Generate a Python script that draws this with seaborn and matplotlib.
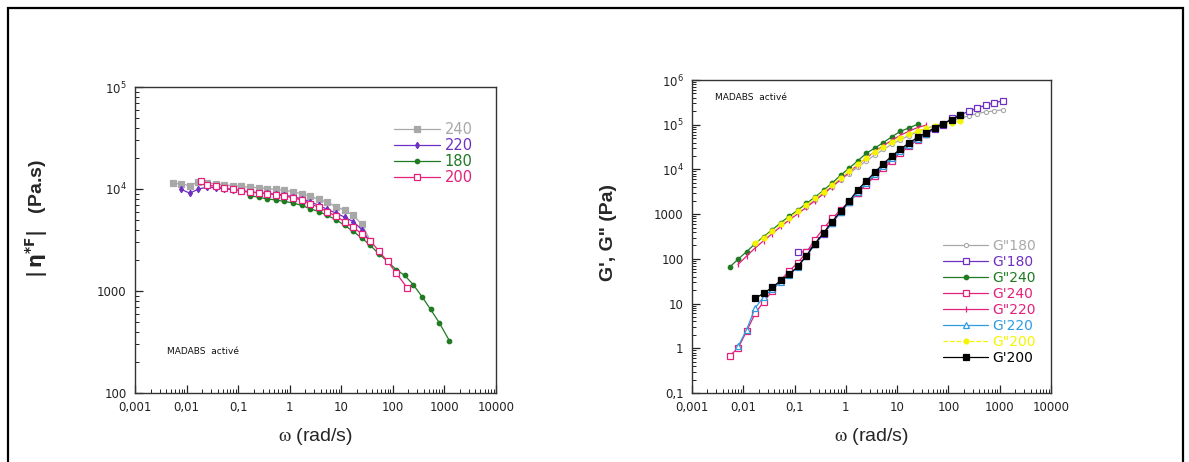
import numpy as np
import pandas as pd
import seaborn as sns
import matplotlib
matplotlib.use("Agg")
import matplotlib.pyplot as plt
from matplotlib.ticker import FixedLocator, FixedFormatter, LogLocator, NullFormatter
from matplotlib.patches import Rectangle

# ---------------- data ----------------
# Left panel : complex viscosity |eta*| (Pa.s) vs omega (rad/s)
w_240 = [0.0054, 0.0079, 0.0116, 0.017, 0.025, 0.0367, 0.054, 0.079, 0.116, 0.17, 0.25, 0.367,
         0.54, 0.79, 1.16, 1.7, 2.5, 3.67, 5.4, 7.9, 11.6, 17, 25, 36.7]
eta_240 = [11400, 11200, 10800, 11800, 11500, 11200, 11000, 10800, 10600, 10400, 10300, 10100,
           9900, 9700, 9400, 9000, 8500, 7900, 7400, 6700, 6200, 5500, 4500, 3100]

w_220 = [0.0079, 0.0116, 0.017, 0.025, 0.0367, 0.054, 0.079, 0.116, 0.17, 0.25, 0.367,
         0.54, 0.79, 1.16, 1.7, 2.5, 3.67, 5.4, 7.9, 11.6, 17, 25, 36.7]
eta_220 = [9900, 9100, 10000, 10400, 10300, 10000, 9850, 9650, 9400, 9200, 9050,
           8900, 8700, 8400, 8000, 7500, 6900, 6300, 5800, 5300, 4800, 4000, 3000]

w_180 = [0.17, 0.25, 0.367, 0.54, 0.79, 1.16, 1.7, 2.5, 3.67, 5.4, 7.9, 11.6, 17, 25, 36.7,
         54, 79, 116, 170, 250, 367, 540, 790, 1250]
eta_180 = [8600, 8300, 8000, 7800, 7550, 7300, 6900, 6400, 6000, 5500, 5000, 4400, 3850, 3300, 2800,
           2300, 1950, 1620, 1420, 1150, 880, 660, 490, 325]

w_200 = [0.019, 0.025, 0.0367, 0.054, 0.079, 0.116, 0.17, 0.25, 0.367, 0.54, 0.79, 1.16, 1.7,
         2.5, 3.67, 5.4, 7.9, 11.6, 17, 25, 36.7, 54, 79, 116, 190]
eta_200 = [12100, 11000, 10600, 10200, 9900, 9500, 9300, 9150, 9000, 8800, 8550, 8200, 7800,
           7200, 6600, 6000, 5400, 4800, 4200, 3650, 3100, 2450, 1950, 1500, 1070]

# Right panel : G', G'' (Pa) vs omega (rad/s)
w_gpp180 = [0.17, 0.25, 0.367, 0.54, 0.79, 1.16, 1.7, 2.5, 3.67, 5.4, 7.9, 11.6, 17, 25, 36.7,
            54, 79, 116, 170, 250, 367, 540, 790, 1160]
gpp_180 = [1450, 2050, 2900, 4100, 5800, 8100, 11200, 15500, 21000, 28000, 36500, 46000, 57000,
           69000, 82000, 96000, 110000, 125000, 140000, 158000, 178000, 193000, 204000, 216000]

w_gp180 = [0.116, 0.17, 0.25, 0.367, 0.54, 0.79, 1.16, 1.7, 2.5, 3.67, 5.4, 7.9, 11.6, 17, 25,
           36.7, 54, 79, 116, 170, 250, 367, 540, 790, 1160]
gp_180 = [140, 145, 210, 360, 640, 1100, 1850, 3000, 4800, 7600, 11800, 17500, 25000, 35000, 47000,
          62000, 80000, 100000, 140000, 168000, 198000, 237000, 275000, 308000, 345000]

w_gpp240 = [0.0054, 0.0079, 0.0116, 0.017, 0.025, 0.0367, 0.054, 0.079, 0.116, 0.17, 0.25, 0.367,
            0.54, 0.79, 1.16, 1.7, 2.5, 3.67, 5.4, 7.9, 11.6, 17, 25]
gpp_240 = [65, 98, 145, 218, 316, 447, 645, 900, 1230, 1740, 2400, 3400,
           5000, 7400, 10700, 15500, 23000, 30000, 40000, 54000, 71000, 85000, 102000]

w_gp240 = [0.0054, 0.0079, 0.0116, 0.017, 0.025, 0.0367, 0.054, 0.079, 0.116, 0.17, 0.25, 0.367,
           0.54, 0.79, 1.16, 1.7, 2.5, 3.67, 5.4, 7.9, 11.6, 17, 25, 36.7]
gp_240 = [0.68, 1.0, 2.4, 6.0, 11, 19, 34, 54, 82, 140, 270, 480,
          800, 1250, 1900, 2900, 4600, 7000, 10500, 15500, 23000, 33000, 46000, 62000]

w_gpp220 = [0.0079, 0.0116, 0.017, 0.025, 0.0367, 0.054, 0.079, 0.116, 0.17, 0.25, 0.367,
            0.54, 0.79, 1.16, 1.7, 2.5, 3.67, 5.4, 7.9, 11.6, 17, 25, 36.7]
gpp_220 = [75, 115, 175, 255, 365, 530, 740, 1020, 1420, 2000, 2850,
           4100, 6000, 8700, 12600, 18000, 25000, 34000, 45000, 58000, 72000, 86000, 98000]

w_gp220 = [0.0079, 0.0116, 0.017, 0.025, 0.0367, 0.054, 0.079, 0.116, 0.17, 0.25, 0.367,
           0.54, 0.79, 1.16, 1.7, 2.5, 3.67, 5.4, 7.9, 11.6, 17, 25, 36.7]
gp_220 = [1.1, 2.6, 8, 14, 21, 31, 44, 66, 115, 210, 370,
          650, 1100, 1850, 3100, 5000, 7800, 12000, 18000, 26000, 36000, 48000, 62000]

w_gpp200 = [0.017, 0.025, 0.0367, 0.054, 0.079, 0.116, 0.17, 0.25, 0.367, 0.54, 0.79, 1.16, 1.7,
            2.5, 3.67, 5.4, 7.9, 11.6, 17, 25, 36.7, 54, 79, 116, 170]
gpp_200 = [225, 300, 420, 590, 830, 1150, 1600, 2250, 3200, 4500, 6500, 9200, 13000,
           18000, 24500, 32000, 41000, 51000, 61000, 72000, 83000, 93000, 102000, 111000, 120000]

w_gp200 = [0.017, 0.025, 0.0367, 0.054, 0.079, 0.116, 0.17, 0.25, 0.367, 0.54, 0.79, 1.16, 1.7,
           2.5, 3.67, 5.4, 7.9, 11.6, 17, 25, 36.7, 54, 79, 116, 170]
gp_200 = [13, 17, 23, 33, 45, 68, 118, 220, 380, 680, 1150, 1950, 3500,
          5500, 8600, 13500, 20000, 28500, 39000, 52000, 66000, 86000, 106000, 130000, 162000]

X_TICKS = [1e-3, 1e-2, 1e-1, 1, 10, 100, 1000, 10000]
X_TICK_LABELS = ["0,001", "0,01", "0,1", "1", "10", "100", "1000", "10000"]
YL_TICKS = [100, 1000, 1e4, 1e5]
YL_TICK_LABELS = ["100", "1000", "$10^4$", "$10^5$"]
YR_TICKS = [0.1, 1, 10, 100, 1000, 1e4, 1e5, 1e6]
YR_TICK_LABELS = ["0,1", "1", "10", "100", "1000", "$10^4$", "$10^5$", "$10^6$"]

LEFT_LABELS = ["240", "220", "180", "200"]
RIGHT_LABELS = ['G"180', "G'180", 'G"240', "G'240", 'G"220', "G'220", 'G"200', "G'200"]

# ---------------- style ----------------
sns.set_style("ticks")
plt.rcParams['font.family'] = ['DejaVu Sans']
plt.rcParams['mathtext.default'] = 'regular'

GRAY = "#a8a8a8"
PURPLE = "#6f2fc2"
GREEN = "#1f7a22"
PINK = "#e3217a"
BLUE = "#2f9be0"
YELLOW = "#f5f500"
BLACK = "#000000"

fig = plt.figure(figsize=(11.89, 4.62), dpi=100)
axL = fig.add_axes([135 / 1189, 69 / 462, 361 / 1189, 306 / 462])
axR = fig.add_axes([692 / 1189, 69 / 462, 359 / 1189, 313 / 462])


def style_axes(ax, ylim, yticks, ylabels):
    ax.set_xscale('log')
    ax.set_yscale('log')
    ax.set_xlim(1e-3, 1e4)
    ax.set_ylim(*ylim)
    ax.xaxis.set_major_locator(FixedLocator(X_TICKS))
    ax.xaxis.set_major_formatter(FixedFormatter(X_TICK_LABELS))
    ax.xaxis.set_minor_locator(LogLocator(base=10, subs=np.arange(2, 10), numticks=30))
    ax.xaxis.set_minor_formatter(NullFormatter())
    ax.yaxis.set_major_locator(FixedLocator(yticks))
    ax.yaxis.set_major_formatter(FixedFormatter(ylabels))
    ax.yaxis.set_minor_locator(LogLocator(base=10, subs=np.arange(2, 10), numticks=30))
    ax.yaxis.set_minor_formatter(NullFormatter())
    ax.tick_params(which='both', direction='in', top=False, right=False,
                   colors='#222222', labelsize=8.5)
    ax.tick_params(which='major', length=6, width=0.9, pad=6)
    ax.tick_params(which='minor', length=3, width=0.7)
    for s in ax.spines.values():
        s.set_linewidth(1.0)
        s.set_color('#333333')
    ax.grid(False)


def draw(ax, x, y, color, marker, ms, label, filled=True, ls='-', lw=0.9, mew=0.9):
    sns.lineplot(x=x, y=y, ax=ax, color=color, marker=marker, markersize=ms,
                 markerfacecolor=color if filled else 'white', markeredgecolor=color,
                 markeredgewidth=mew, linewidth=lw, linestyle=ls, label=label,
                 errorbar=None, sort=False)


# ---------------- left panel ----------------
draw(axL, w_240, eta_240, GRAY, 's', 4, LEFT_LABELS[0])
draw(axL, w_220, eta_220, PURPLE, 'd', 3.2, LEFT_LABELS[1])
draw(axL, w_180, eta_180, GREEN, 'o', 3.2, LEFT_LABELS[2])
draw(axL, w_200, eta_200, PINK, 's', 4, LEFT_LABELS[3], filled=False)
style_axes(axL, (100, 1e5), YL_TICKS, YL_TICK_LABELS)
legL = axL.legend(loc='upper left', bbox_to_anchor=(0.70, 0.905), frameon=False,
                  handlelength=3.2, fontsize=10.5, labelspacing=0.08, handletextpad=0.3,
                  labelcolor='linecolor', borderaxespad=0)
axL.text(0.09, 0.135, "MADABS  activé", transform=axL.transAxes, fontsize=6.5,
         ha='left', va='center', color='#111111')
axL.set_xlabel(r"$\mathrm{\omega}$ (rad/s)", fontsize=14, math_fontfamily='stix',
               family='Liberation Sans')
axL.xaxis.set_label_coords(0.5, -0.108)
axL.set_ylabel(r"$\mathbf{|\,\eta^{*F}|}$   (Pa.s)", fontsize=14, fontweight='bold',
               family='Liberation Sans')
axL.yaxis.set_label_coords(-0.235, 0.57)

# ---------------- right panel ----------------
draw(axR, w_gpp180, gpp_180, GRAY, 'o', 3, RIGHT_LABELS[0], filled=False, mew=0.8)
draw(axR, w_gp180, gp_180, PURPLE, 's', 4.6, RIGHT_LABELS[1], filled=False)
draw(axR, w_gpp240, gpp_240, GREEN, 'o', 3.2, RIGHT_LABELS[2])
draw(axR, w_gp240, gp_240, PINK, 's', 4.6, RIGHT_LABELS[3], filled=False)
draw(axR, w_gpp220, gpp_220, PINK, '|', 5, RIGHT_LABELS[4])
draw(axR, w_gp220, gp_220, BLUE, '^', 4, RIGHT_LABELS[5], filled=False)
draw(axR, w_gpp200, gpp_200, YELLOW, 'o', 3.5, RIGHT_LABELS[6], ls='--')
draw(axR, w_gp200, gp_200, BLACK, 's', 5, RIGHT_LABELS[7])
style_axes(axR, (0.1, 1e6), YR_TICKS, YR_TICK_LABELS)
legR = axR.legend(loc='upper left', bbox_to_anchor=(0.685, 0.51), frameon=False,
                  handlelength=3.2, fontsize=10, labelspacing=0.14, handletextpad=0.3,
                  labelcolor='linecolor', borderaxespad=0)
axR.text(0.065, 0.945, "MADABS  activé", transform=axR.transAxes, fontsize=6.5,
         ha='left', va='center', color='#111111')
axR.set_xlabel(r"$\mathrm{\omega}$ (rad/s)", fontsize=14, math_fontfamily='stix',
               family='Liberation Sans')
axR.xaxis.set_label_coords(0.5, -0.106)
axR.set_ylabel("G', G\" (Pa)", fontsize=14, fontweight='bold', family='Liberation Sans')
axR.yaxis.set_label_coords(-0.21, 0.514)

# ---------------- outer frame ----------------
frame = Rectangle((8 / 1189, -0.1), (1183 - 8) / 1189, 1.1 - 8 / 462,
                  transform=fig.transFigure, fill=False, lw=1.6, edgecolor='black',
                  clip_on=False)
fig.add_artist(frame)

fig.savefig("out.png", dpi=100, facecolor='white')
